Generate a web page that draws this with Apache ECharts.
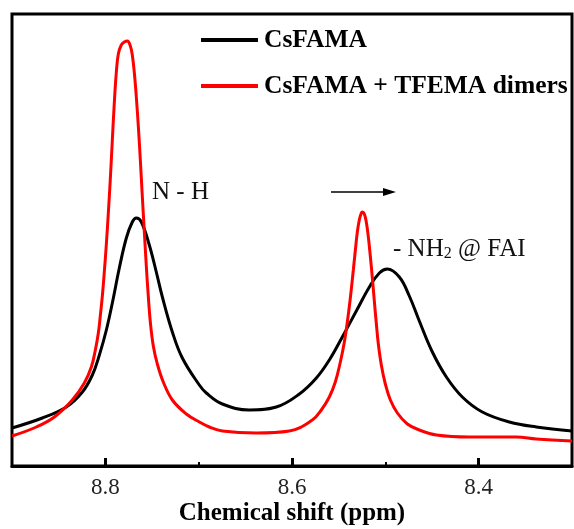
<!DOCTYPE html>
<html>
<head>
<meta charset="utf-8">
<script src="https://cdn.jsdelivr.net/npm/echarts@6/dist/echarts.min.js"></script>
<style>html,body{margin:0;padding:0;background:#fff;}#c{width:574px;height:529px;}</style>
</head>
<body>
<div id="c"></div>
<script>
// Chemical shift (ppm) positions and intensities (arbitrary units)
const blackShift = [8.90,8.8675,8.8418,8.8246,8.8139,8.8064,8.7989,8.7925,8.7850,8.7775,8.7711,8.7668,8.7614,8.7529,8.7454,8.7389,8.7282,8.7175,8.6993,8.6918,8.6746,8.6457,8.6168,8.5921,8.5739,8.5600,8.5461,8.5311,8.5171,8.5064,8.4979,8.4850,8.4743,8.4636,8.4496,8.4346,8.4175,8.3961,8.3671,8.3382,8.30];
const blackInt = [38,48,59,74,91,111,136,163,198,228,244,248,244,221,194,169,134,108,81,73,62,56,59,72,88,106,129,155,179,193,197,189,170,145,114,89,69,54,44,39,35];

const redShift = [8.90,8.8739,8.8546,8.8354,8.8225,8.8150,8.8107,8.8075,8.8054,8.8032,8.8011,8.7989,8.7968,8.7946,8.7925,8.7904,8.7882,8.7861,8.7829,8.7796,8.7764,8.7732,8.7711,8.7689,8.7668,8.7646,8.7625,8.7604,8.7582,8.7561,8.7539,8.7518,8.7486,8.7443,8.7379,8.7282,8.7132,8.6993,8.6886,8.6746,8.6382,8.6029,8.5782,8.5686,8.5600,8.5536,8.5482,8.5439,8.5407,8.5375,8.5343,8.5321,8.5300,8.5279,8.5257,8.5246,8.5225,8.5204,8.5182,8.5161,8.5139,8.5118,8.5096,8.5075,8.5043,8.5000,8.4946,8.4871,8.4764,8.4636,8.4453,8.4100,8.3596,8.3382,8.30];
const redInt = [30,39,49,66,83,99,116,133,150,170,194,222,253,288,326,363,394,412,421,424,425,420,411,393,369,339,306,270,234,200,169,144,120,102,84,66,52,44,39,35,33,35,46,56,69,84,104,124,144,168,196,216,234,246,253,254,252,244,229,210,188,165,142,122,101,82,66,53,42,36,31,29,29,27,25];

const seriesNames = ['CsFAMA', 'CsFAMA + TFEMA dimers'];
const majorTicks = [8.4, 8.6, 8.8];
const minorTicks = [8.5, 8.7];
const xName = 'Chemical shift (ppm)';

const zip = (a, b) => a.map((v, i) => [v, b[i]]);
const serif = '"Liberation Serif", "Times New Roman", serif';

const chart = echarts.init(document.getElementById('c'), null, {renderer: 'canvas'});
chart.setOption({
  backgroundColor: '#ffffff',
  animation: false,
  grid: {left: 12, right: 2, top: 14, bottom: 63, outerBoundsMode: 'none', containLabel: false,
         show: true, borderColor: '#000', borderWidth: 3, backgroundColor: 'transparent'},
  legend: {
    data: seriesNames,
    orient: 'vertical',
    left: 196, top: 22,
    icon: 'rect',
    itemWidth: 57, itemHeight: 4,
    itemGap: 20,
    textStyle: {fontFamily: serif, fontWeight: 'bold', fontSize: 25.5, color: '#000', padding: [0, 0, 0, 1]}
  },
  xAxis: [{
    type: 'value', min: 8.3, max: 8.9, interval: 0.1, inverse: true,
    name: xName, nameLocation: 'middle', nameGap: 35, nameMoveOverlap: false,
    nameTextStyle: {fontFamily: serif, fontWeight: 'bold', fontSize: 25, color: '#000'},
    axisLine: {show: true, lineStyle: {color: '#000', width: 3}},
    axisTick: {show: true, inside: true, length: 8, customValues: majorTicks, lineStyle: {color: '#000', width: 3}},
    axisLabel: {show: true, customValues: majorTicks, margin: 10, fontFamily: serif, fontSize: 23, color: '#222', formatter: v => v.toFixed(1)},
    splitLine: {show: false}
  }, {
    type: 'value', min: 8.3, max: 8.9, interval: 0.1, inverse: true, position: 'bottom', gridIndex: 0,
    axisLine: {show: false},
    axisTick: {show: true, inside: true, length: 4, customValues: minorTicks, lineStyle: {color: '#000', width: 2}},
    axisLabel: {show: false},
    splitLine: {show: false}
  }],
  yAxis: {type: 'value', min: 0, max: 452, show: false, splitLine: {show: false}},
  series: [{
    name: seriesNames[0], type: 'line', xAxisIndex: 0, data: zip(blackShift, blackInt),
    showSymbol: false, smooth: 0.4, lineStyle: {color: '#000', width: 3}, itemStyle: {color: '#000'}, z: 2
  }, {
    name: seriesNames[1], type: 'line', xAxisIndex: 0, data: zip(redShift, redInt),
    showSymbol: false, smooth: 0.4, lineStyle: {color: '#ff0000', width: 3}, itemStyle: {color: '#ff0000'}, z: 3
  }],
  graphic: [
    {type: 'text', left: 152, top: 180, style: {text: 'N - H', fontFamily: serif, fontSize: 25, fill: '#111'}},
    {type: 'text', left: 393, top: 237, style: {
      text: '{a|- NH}{s|2}{a| @ FAI}', fill: '#111',
      rich: {
        a: {fontFamily: serif, fontSize: 25, lineHeight: 28, verticalAlign: 'bottom', fill: '#111'},
        s: {fontFamily: serif, fontSize: 16, lineHeight: 8, verticalAlign: 'bottom', fill: '#111'}
      }
    }},
    {type: 'line', shape: {x1: 331, y1: 192, x2: 386, y2: 192}, style: {stroke: '#000', lineWidth: 1.3}},
    {type: 'polygon', shape: {points: [[383, 188], [396, 192], [383, 196]]}, style: {fill: '#000'}}
  ]
});
</script>
</body>
</html>
